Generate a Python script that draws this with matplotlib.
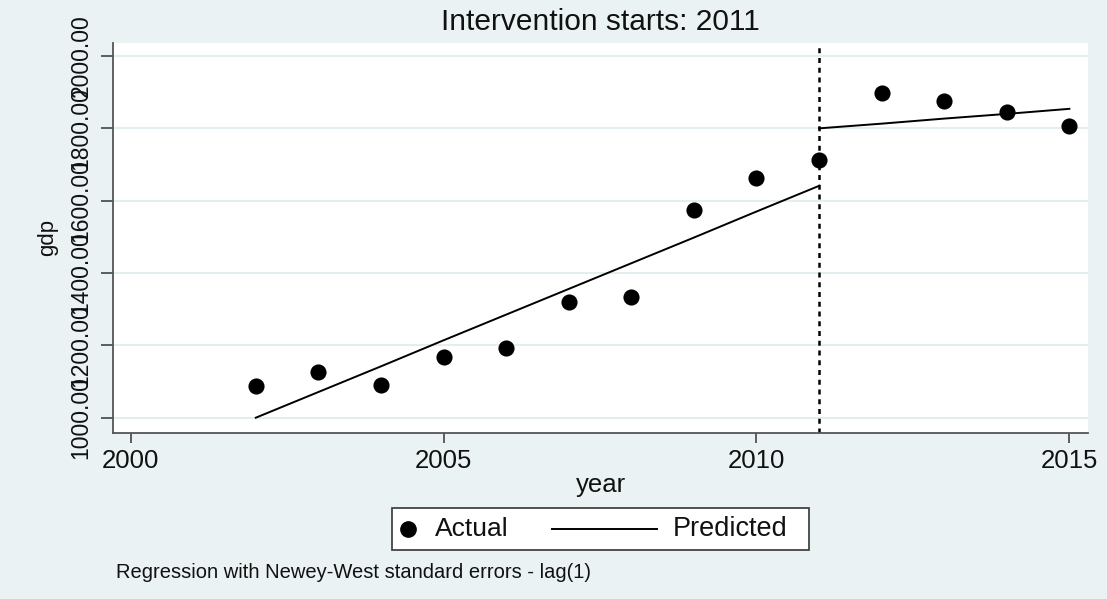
import matplotlib
matplotlib.use("Agg")
import matplotlib.pyplot as plt
from matplotlib.lines import Line2D
from matplotlib.patches import Rectangle

# Observed GDP by year
years = [2002, 2003, 2004, 2005, 2006, 2007, 2008,
         2009, 2010, 2011, 2012, 2013, 2014, 2015]
gdp = [1088, 1126, 1090, 1167, 1194, 1321, 1335,
       1575, 1662, 1713, 1899, 1876, 1844, 1806]

# Fitted values from the interrupted time-series regression
pre_years = [2002, 2003, 2004, 2005, 2006, 2007, 2008, 2009, 2010, 2011]
pre_fit = [1000, 1071, 1142, 1214, 1285, 1356, 1427, 1498, 1570, 1641]
post_years = [2011, 2012, 2013, 2014, 2015]
post_fit = [1800, 1813, 1827, 1840, 1854]

intervention_year = 2011
x_ticks = [2000, 2005, 2010, 2015]
y_ticks = [1000, 1200, 1400, 1600, 1800, 2000]

BG = "#EAF2F3"
GRID = "#E4EDF0"
INK = "#111111"

plt.rcParams["font.family"] = ["Liberation Sans", "DejaVu Sans"]

fig = plt.figure(figsize=(11.07, 5.99), dpi=100, facecolor=BG)
ax = fig.add_axes([0.1024, 0.2776, 0.8804, 0.6511])
ax.set_facecolor("white")

ax.set_xlim(1999.724, 2015.297)
ax.set_ylim(958.5, 2036.8)

ax.set_yticks(y_ticks)
ax.set_yticklabels([f"{v:.2f}" for v in y_ticks], rotation=90, va="center",
                   fontsize=16.5, color=INK)
ax.set_xticks(x_ticks)
ax.set_xticklabels([str(v) for v in x_ticks], fontsize=18.5, color=INK)
ax.tick_params(axis="y", length=9, width=1.2, color="#444444", pad=6)
ax.tick_params(axis="x", length=7, width=1.2, color="#444444", pad=5)

ax.grid(axis="y", color=GRID, linewidth=1.4)
ax.set_axisbelow(True)

for side in ("top", "right"):
    ax.spines[side].set_visible(False)
for side in ("left", "bottom"):
    ax.spines[side].set_color("#555555")
    ax.spines[side].set_linewidth(1.3)

ax.axvline(intervention_year, color="black", linewidth=1.8,
           linestyle=(0, (2.0, 1.9)), zorder=2)

ax.plot(pre_years, pre_fit, color="black", linewidth=1.4, zorder=3)
ax.plot(post_years, post_fit, color="black", linewidth=1.4, zorder=3)
ax.scatter(years, gdp, s=135, color="black", zorder=4, linewidths=0)

ax.set_xlabel("year", fontsize=18.5, color=INK, labelpad=0)
ax.set_ylabel("gdp", fontsize=16, color=INK, labelpad=8)

fig.text(0.5420, 1 - 22 / 599, "Intervention starts: 2011", ha="center",
         va="center", fontsize=21.5, color=INK)

# Legend box
W, H = 1107, 599
fig.patches.append(Rectangle((391.7 / W, 1 - 550 / H), (809 - 391.7) / W,
                             (550 - 508.3) / H, transform=fig.transFigure,
                             facecolor="white", edgecolor="#444444",
                             linewidth=1.3))
ly = 1 - 529 / H
fig.lines.append(Line2D([408 / W], [ly], marker="o", markersize=11,
                        color="black", linestyle="none",
                        transform=fig.transFigure))
fig.text(435 / W, ly, "Actual", ha="left", va="center", fontsize=19, color=INK)
fig.lines.append(Line2D([552 / W, 657 / W], [ly, ly], color="black",
                        linewidth=1.4, transform=fig.transFigure))
fig.text(673 / W, ly, "Predicted", ha="left", va="center", fontsize=19.5,
         color=INK)

fig.text(116 / W, 1 - 572 / H,
         "Regression with Newey-West standard errors - lag(1)",
         ha="left", va="center", fontsize=14.5, color=INK)

fig.savefig("out.png", dpi=100, facecolor=BG)
